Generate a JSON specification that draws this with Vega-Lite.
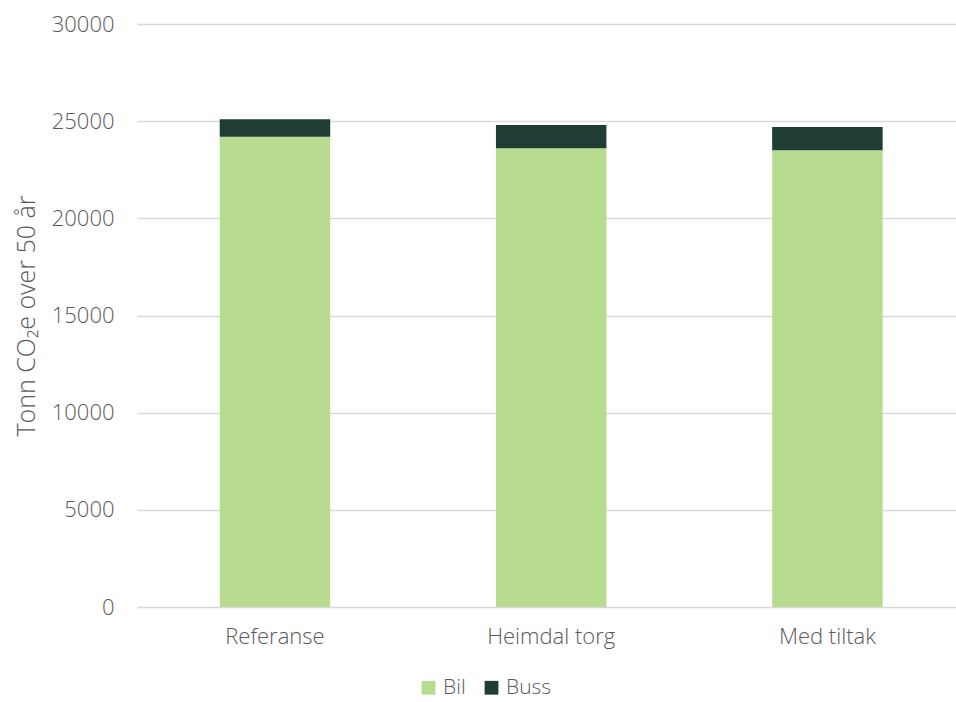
{
  "$schema": "https://vega.github.io/schema/vega-lite/v6.json",
  "width": 819,
  "height": 583,
  "autosize": {"type": "none"},
  "padding": {"left": 137, "top": 24, "right": 0, "bottom": 95},
  "background": "white",
  "config": {
    "font": "Open Sans",
    "view": {"stroke": null}
  },
  "data": {
    "values": [
      {"scenario": "Referanse", "type": "Bil", "value": 24200},
      {"scenario": "Referanse", "type": "Buss", "value": 900},
      {"scenario": "Heimdal torg", "type": "Bil", "value": 23600},
      {"scenario": "Heimdal torg", "type": "Buss", "value": 1200},
      {"scenario": "Med tiltak", "type": "Bil", "value": 23500},
      {"scenario": "Med tiltak", "type": "Buss", "value": 1200}
    ]
  },
  "mark": {"type": "bar"},
  "encoding": {
    "x": {
      "field": "scenario",
      "type": "nominal",
      "sort": ["Referanse", "Heimdal torg", "Med tiltak"],
      "scale": {"paddingInner": 0.6, "paddingOuter": 0.2825, "align": 0.53},
      "axis": {
        "title": null,
        "labelAngle": 0,
        "labelFont": "Open Sans",
        "labelFontSize": 22,
        "labelFontWeight": 300,
        "labelColor": "#595959",
        "labelPadding": 19,
        "ticks": false,
        "domain": false,
        "grid": false
      }
    },
    "y": {
      "field": "value",
      "type": "quantitative",
      "stack": "zero",
      "scale": {"domain": [0, 30000]},
      "axis": {
        "title": "Tonn CO₂e over 50 år",
        "titleFontSize": 25,
        "titleFontWeight": 300,
        "titleColor": "#595959",
        "titlePadding": 12,
        "values": [0, 5000, 10000, 15000, 20000, 25000, 30000],
        "format": "d",
        "labelFontSize": 22,
        "labelFontWeight": 300,
        "labelColor": "#595959",
        "labelPadding": 23,
        "ticks": false,
        "domain": false,
        "grid": true,
        "gridColor": "#d9d9d9",
        "gridWidth": 1.5
      }
    },
    "color": {
      "field": "type",
      "type": "nominal",
      "sort": ["Bil", "Buss"],
      "scale": {"domain": ["Bil", "Buss"], "range": ["#b8dc8f", "#1f3d34"]},
      "legend": {
        "title": null,
        "orient": "none",
        "direction": "horizontal",
        "legendX": 281,
        "legendY": 653,
        "symbolType": "square",
        "symbolSize": 190,
        "symbolStrokeWidth": 0,
        "labelFontSize": 21,
        "labelFontWeight": 300,
        "labelColor": "#595959",
        "columnPadding": 15
      }
    },
    "order": {"field": "type", "sort": "ascending"}
  }
}
